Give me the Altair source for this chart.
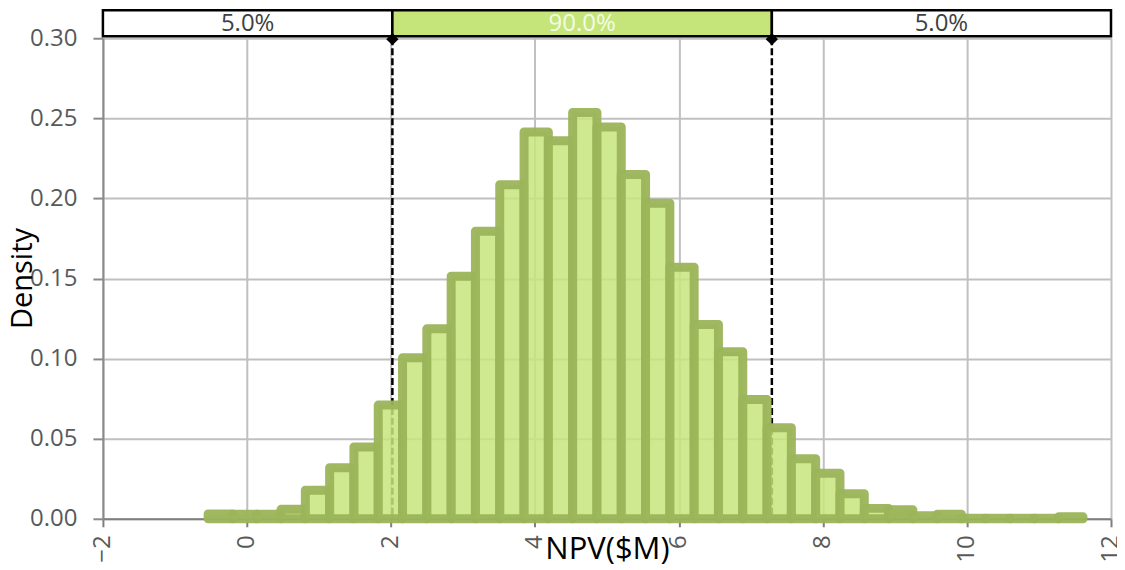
import altair as alt
import pandas as pd

# ---- data ----
bin_start = -0.539
bin_width = 0.3375
density = [0.0030, 0.0028, 0.0028, 0.0059, 0.0178, 0.0319, 0.0448, 0.0710,
           0.1005, 0.1186, 0.1514, 0.1795, 0.2086,
           0.2415, 0.2360, 0.2537, 0.2446, 0.2149,
           0.1970, 0.1570, 0.1213, 0.1043, 0.0745,
           0.0569, 0.0375, 0.0284, 0.0157, 0.0065,
           0.0056, 0.0019, 0.0028,
           0.0003, 0.0003, 0.0003, 0.0003, 0.0012]

p5 = 2.02
p95 = 7.29
x_min, x_max = -2, 12
x_ticks = [-2, 0, 2, 4, 6, 8, 10, 12]
y_ticks = [0.0, 0.05, 0.10, 0.15, 0.20, 0.25, 0.30]

band_lo = [x_min, p5, p95]
band_hi = [p5, p95, x_max]
band_labels = ["5.0%", "90.0%", "5.0%"]
band_fill = ["#ffffff", "#c5e57a", "#ffffff"]
band_text = ["#404040", "#f4fbe4", "#404040"]

# ---- tables ----
bars = pd.DataFrame({
    "lo": [bin_start + i * bin_width for i in range(len(density))],
    "hi": [bin_start + (i + 1) * bin_width for i in range(len(density))],
    "density": density,
})
bands = pd.DataFrame({"lo": band_lo, "hi": band_hi, "label": band_labels,
                      "fill": band_fill, "tcol": band_text})
bands["mid"] = (bands["lo"] + bands["hi"]) / 2
marks = pd.DataFrame({"p": [p5, p95]})

FONT = "Open Sans"
xscale = alt.Scale(domain=[x_min, x_max], nice=False, zero=False)
xaxis = alt.Axis(values=x_ticks, labelAngle=270, labelFontSize=24, labelColor="#595959",
                 labelFont=FONT, grid=True, gridColor="#c0c0c0", gridWidth=2,
                 domainColor="#7f7f7f", domainWidth=2, tickColor="#7f7f7f", tickWidth=2,
                 tickSize=8, labelPadding=8, title="NPV($M)", titleFont=FONT,
                 titleFontSize=31, titleFontWeight="normal", titleColor="#000000",
                 titleBaseline="alphabetic", titleY=40)
yaxis = alt.Axis(values=y_ticks, format=".2f", labelFontSize=24, labelColor="#595959",
                 labelFont=FONT, grid=True, gridColor="#c0c0c0", gridWidth=2,
                 domainColor="#8a8a8a", domainWidth=2, tickColor="#8a8a8a", tickWidth=2,
                 tickSize=10, labelPadding=16, title="Density", titleFont=FONT,
                 titleFontSize=29, titleFontWeight="normal", titleColor="#000000",
                 titleBaseline="alphabetic", titleX=-71, titleY=240)


def X(field):
    return alt.X(field, type="quantitative", scale=xscale, axis=xaxis)


rules = alt.Chart(marks).mark_rule(color="#000000", strokeWidth=2.5, strokeDash=[7, 3]).encode(
    x=X("p:Q"), y=alt.value(0), y2=alt.value(481))

hist = alt.Chart(bars).mark_rect(
    fill="#c6e57b", fillOpacity=0.85, stroke="#9bb45a", strokeOpacity=0.95,
    strokeWidth=9, strokeJoin="round").encode(
    x=X("lo:Q"), x2="hi:Q",
    y=alt.Y("density:Q", scale=alt.Scale(domain=[0, 0.3], nice=False), axis=yaxis),
    y2=alt.datum(0))

boxes = alt.Chart(bands).mark_rect(stroke="#000000", strokeWidth=2.5).encode(
    x=X("lo:Q"), x2="hi:Q", y=alt.value(-28), y2=alt.value(-2),
    fill=alt.Fill("fill:N", scale=None))

box_text = alt.Chart(bands).mark_text(font=FONT, fontSize=24, baseline="middle").encode(
    x=X("mid:Q"), y=alt.value(-14), text="label:N",
    color=alt.Color("tcol:N", scale=None))

diamonds = alt.Chart(marks).mark_point(shape="diamond", filled=True, color="#000000",
                                       size=150, opacity=1).encode(
    x=X("p:Q"), y=alt.value(1))

chart = alt.layer(rules, hist, boxes, box_text, diamonds).properties(
    width=1009, height=481,
    autosize=alt.AutoSizeParams(type="none"),
    padding={"left": 95, "top": 30, "right": 6, "bottom": 45},
).configure_view(fill="#f0f0f0", stroke=None).configure(background="#ffffff")

chart.save("out.html", embed_options={"renderer": "svg", "actions": False})
